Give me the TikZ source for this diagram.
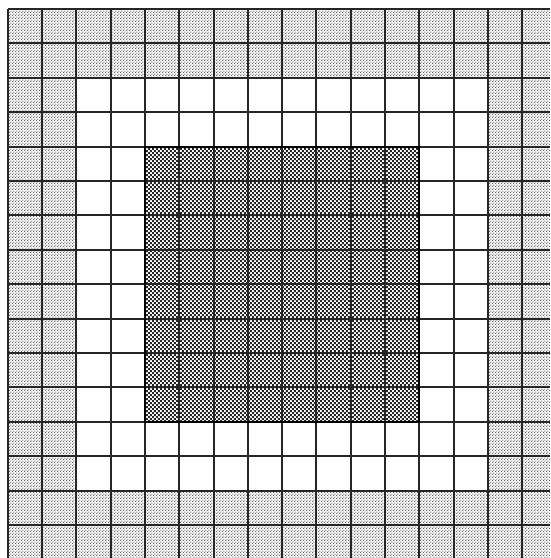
\documentclass[tikz,border=0pt]{standalone}
\usetikzlibrary{patterns}
\pgfdeclarepatternformonly{lightdots}{\pgfqpoint{0pt}{0pt}}{\pgfqpoint{3.4pt}{3.4pt}}{\pgfqpoint{3.4pt}{3.4pt}}{%
  \pgfpathrectangle{\pgfqpoint{0pt}{0pt}}{\pgfqpoint{1.2pt}{1.2pt}}%
  \pgfpathrectangle{\pgfqpoint{1.7pt}{1.7pt}}{\pgfqpoint{1.2pt}{1.2pt}}%
  \pgfusepath{fill}}
\pgfdeclarepatternformonly{darkcheck}{\pgfqpoint{0pt}{0pt}}{\pgfqpoint{4.4pt}{4.4pt}}{\pgfqpoint{4.4pt}{4.4pt}}{%
  \pgfpathrectangle{\pgfqpoint{0pt}{0pt}}{\pgfqpoint{2.2pt}{2.2pt}}%
  \pgfpathrectangle{\pgfqpoint{2.2pt}{2.2pt}}{\pgfqpoint{2.2pt}{2.2pt}}%
  \pgfusepath{fill}}
\tikzset{
  gridline/.style={draw=black!85, line width=2pt},
  lightband/.style={pattern=lightdots, pattern color=black!60},
  darkband/.style={pattern=darkcheck, pattern color=black!85},
  darkedge/.style={draw=black, line width=2.2pt}
}
\begin{document}
\begin{tikzpicture}[x=1pt,y=-1pt]
\useasboundingbox (0,0) rectangle (550,558);
\fill[white] (0,0) rectangle (550,558);
% light outer band (two cells wide)
\path[lightband, even odd rule] (7.7,9) rectangle (550,558) (76.3,77.8) rectangle (487.9,490.6);
% dark centre (8 x 8 cells)
\path[darkband] (144.9,146.6) rectangle (419.3,421.8);
% grid
\foreach \i in {0,...,15}{
  \draw[gridline] (7.7+\i*34.3,9) -- (7.7+\i*34.3,558);
  \draw[gridline] (7.7,9+\i*34.4) -- (550,9+\i*34.4);
}
% centre border
\draw[darkedge] (144.9,146.6) rectangle (419.3,421.8);
\end{tikzpicture}
\end{document}
